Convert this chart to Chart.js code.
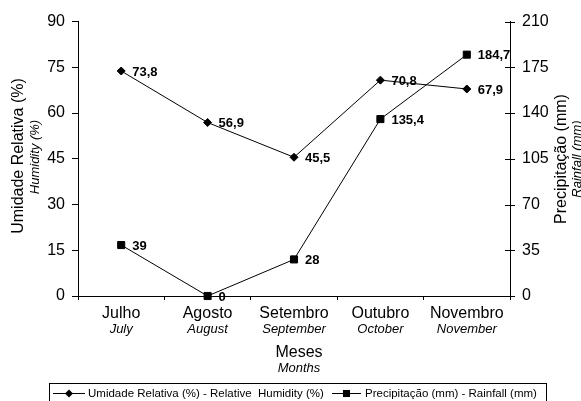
<!DOCTYPE html>
<html>
<head>
<meta charset="utf-8">
<script src="https://cdn.jsdelivr.net/npm/chart.js@4/dist/chart.umd.min.js"></script>
<style>
  html, body { margin: 0; padding: 0; background: #fff; }
  #c { display: block; }
</style>
</head>
<body>
<canvas id="c" width="581" height="401"></canvas>
<script>
// Monthly relative humidity and rainfall
const months = ['Julho', 'Agosto', 'Setembro', 'Outubro', 'Novembro'];
const monthsEn = ['July', 'August', 'September', 'October', 'November'];
const humidity = [73.8, 56.9, 45.5, 70.8, 67.9];
const rainfall = [39, 0, 28, 135.4, 184.7];
const humidityTicks = [0, 15, 30, 45, 60, 75, 90];
const rainfallTicks = [0, 35, 70, 105, 140, 175, 210];

const FONT = "'Liberation Sans', Arial, sans-serif";
const INK = '#000';

// decimal comma for value labels
function fmt(v) { return String(v).replace('.', ','); }

function drawMarker(ctx, style, x, y, r) {
  ctx.beginPath();
  if (style === 'rectRot') {
    ctx.moveTo(x - r, y); ctx.lineTo(x, y - r); ctx.lineTo(x + r, y); ctx.lineTo(x, y + r);
    ctx.closePath();
  } else {
    const s = r * Math.SQRT1_2;
    ctx.rect(x - s, y - s, 2 * s, 2 * s);
  }
  ctx.fill();
}

// rotated text reading bottom-to-top
function drawVertical(ctx, x, cy, text, font) {
  ctx.save();
  ctx.translate(x, cy);
  ctx.rotate(-Math.PI / 2);
  ctx.textAlign = 'center';
  ctx.textBaseline = 'middle';
  ctx.font = font;
  ctx.fillText(text, 0, 0);
  ctx.restore();
}

const annotate = {
  id: 'annotate',
  afterDatasetsDraw(chart) {
    const ctx = chart.ctx;
    ctx.save();
    ctx.fillStyle = INK;
    ctx.font = 'bold 13px ' + FONT;
    ctx.textAlign = 'left';
    ctx.textBaseline = 'middle';
    chart.data.datasets.forEach((ds, i) => {
      chart.getDatasetMeta(i).data.forEach((pt, j) => {
        ctx.fillText(fmt(ds.data[j]), pt.x + 11, pt.y + 1);
      });
    });
    ctx.restore();
  },
  afterDraw(chart) {
    const ctx = chart.ctx;
    const xs = chart.scales.x;
    const yr = chart.scales.yR;
    const area = chart.chartArea;
    ctx.save();
    ctx.fillStyle = INK;
    ctx.strokeStyle = INK;
    ctx.lineWidth = 1;

    // tick marks crossing the right axis
    yr.ticks.forEach(t => {
      const y = Math.round(yr.getPixelForValue(t.value)) + 0.5;
      ctx.beginPath();
      ctx.moveTo(area.right - 5, y);
      ctx.lineTo(area.right + 5, y);
      ctx.stroke();
    });

    // two-line month labels
    ctx.textAlign = 'center';
    ctx.textBaseline = 'alphabetic';
    months.forEach((m, i) => {
      const x = xs.getPixelForValue(i);
      ctx.font = '16px ' + FONT;
      ctx.fillText(m, x, 318);
      ctx.font = 'italic 13px ' + FONT;
      ctx.fillText(monthsEn[i], x, 333);
    });

    // x axis title
    const cx = (area.left + area.right) / 2 + 5;
    ctx.font = '16px ' + FONT;
    ctx.fillText('Meses', cx, 357);
    ctx.font = 'italic 13px ' + FONT;
    ctx.fillText('Months', cx, 372);

    // y axis titles
    drawVertical(ctx, 19, 156, 'Umidade Relativa (%)', '16px ' + FONT);
    drawVertical(ctx, 35, 157, 'Humidity (%)', 'italic 13px ' + FONT);
    drawVertical(ctx, 562, 159, 'Precipitação (mm)', '16px ' + FONT);
    drawVertical(ctx, 577, 159, 'Rainfall (mm)', 'italic 13px ' + FONT);

    // legend
    ctx.strokeRect(49.5, 383.5, 497, 22);
    const ly = 393.5;
    ctx.font = '11.5px ' + FONT;
    ctx.textAlign = 'left';
    ctx.textBaseline = 'middle';
    const entries = [
      { style: 'rectRot', r: 4, x0: 53, x1: 85, tx: 88,
        text: 'Umidade Relativa (%) - Relative  Humidity (%)' },
      { style: 'rect', r: 5, x0: 332, x1: 361, tx: 365,
        text: 'Precipitação (mm) - Rainfall (mm)' }
    ];
    entries.forEach(e => {
      ctx.beginPath();
      ctx.moveTo(e.x0, ly);
      ctx.lineTo(e.x1, ly);
      ctx.stroke();
      drawMarker(ctx, e.style, (e.x0 + e.x1) / 2, ly, e.r);
      ctx.fillText(e.text, e.tx, ly);
    });
    ctx.restore();
  }
};

new Chart(document.getElementById('c'), {
  type: 'line',
  data: {
    labels: months,
    datasets: [
      {
        label: 'Umidade Relativa (%) - Relative Humidity (%)',
        data: humidity,
        yAxisID: 'yH',
        borderColor: INK,
        backgroundColor: INK,
        borderWidth: 1,
        pointStyle: 'rectRot',
        pointRadius: 4,
        pointBorderWidth: 1,
        tension: 0,
        clip: false
      },
      {
        label: 'Precipitação (mm) - Rainfall (mm)',
        data: rainfall,
        yAxisID: 'yR',
        borderColor: INK,
        backgroundColor: INK,
        borderWidth: 1,
        pointStyle: 'rect',
        pointRadius: 5,
        pointBorderWidth: 1,
        tension: 0,
        clip: false
      }
    ]
  },
  options: {
    responsive: false,
    animation: false,
    devicePixelRatio: 1,
    layout: { padding: { top: 21, left: 0, right: 0, bottom: 0 } },
    plugins: { legend: { display: false }, tooltip: { enabled: false } },
    scales: {
      x: {
        type: 'category',
        offset: true,
        grid: { drawOnChartArea: false, offset: true, tickLength: 4, color: INK },
        border: { color: INK },
        ticks: { display: false },
        afterFit(s) { s.height = 105; }
      },
      yH: {
        position: 'left',
        min: 0, max: 90,
        afterBuildTicks(s) { s.ticks = humidityTicks.map(v => ({ value: v })); },
        grid: { drawOnChartArea: false, tickLength: 6, color: INK },
        border: { color: INK },
        ticks: { color: INK, font: { family: FONT, size: 16 }, padding: 7 },
        afterFit(s) { s.width = 78; }
      },
      yR: {
        position: 'right',
        min: 0, max: 210,
        afterBuildTicks(s) { s.ticks = rainfallTicks.map(v => ({ value: v })); },
        grid: { drawOnChartArea: false, drawTicks: false, color: INK },
        border: { color: INK },
        ticks: { color: INK, font: { family: FONT, size: 16 }, padding: 12 },
        afterFit(s) { s.width = 71; }
      }
    }
  },
  plugins: [annotate]
});
</script>
</body>
</html>
